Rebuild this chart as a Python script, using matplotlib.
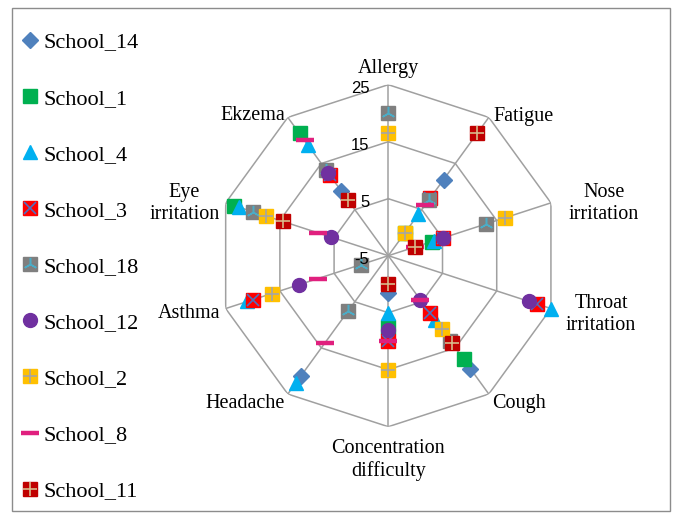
import numpy as np
import matplotlib
matplotlib.use("Agg")
import matplotlib.pyplot as plt
from matplotlib.patches import Rectangle

# ---- data ----
categories = ["Allergy", "Fatigue", "Nose\nirritation", "Throat\nirritation", "Cough",
              "Concentration\ndifficulty", "Headache", "Asthma", "Eye\nirritation", "Ekzema"]
r_ticks = [-5, 5, 15, 25]
nan = np.nan

school_14 = [nan, 11.5, nan, nan, 19.5, 1.5, 21, nan, nan, 9]
school_1 = [nan, 0, 3, nan, 17.5, 7.5, nan, nan, 23.5, 21.5]
school_4 = [nan, 4, 3.5, 25, 9, 5, 22.5, 21, 22.5, 19]
school_3 = [nan, 7.5, 5, 22.5, 7.5, 10, nan, 20, nan, 12.5]
school_18 = [20, 7, 13, nan, 13.5, nan, 7, 0, 20, 13.5]
school_12 = [nan, 0, 5, 21, 4.5, 8, nan, 11.5, 5.5, 13]
school_2 = [16.5, 0, 16.5, nan, 11, 15, nan, 16.5, 17.5, nan]
school_8 = [nan, 6, 0, nan, 4.5, 10, 14, 8, 8, 20]
school_11 = [nan, 21.5, 0, nan, 14, 0, nan, nan, 14.5, 7]

W, H = 677, 513
fig = plt.figure(figsize=(W / 100, H / 100), dpi=100)

# polar axes, centre at (388, 256) px, radius 171 px
cx, cy, rad = 388.3, 255.7, 171
ax = fig.add_axes([(cx - rad) / W, 1 - (cy + rad) / H, 2 * rad / W, 2 * rad / H],
                  projection="polar")
ax.set_theta_zero_location("N")
ax.set_theta_direction(-1)
ax.set_ylim(-5, 25)
ax.grid(False)
ax.spines["polar"].set_visible(False)
ax.set_xticks([])
ax.set_yticks([])

theta = np.arange(len(categories)) * 2 * np.pi / len(categories)
grid_col = "#A0A0A0"

# decagon grid + spokes
for r in r_ticks[1:]:
    ax.plot(np.append(theta, theta[0]), [r] * (len(theta) + 1), color=grid_col, lw=1.1, zorder=1)
for t in theta:
    ax.plot([t, t], [-5, 25], color=grid_col, lw=1.1, zorder=1)

# category labels
lab_font = dict(fontfamily="Liberation Serif", fontsize=14.5, linespacing=1.2,
                multialignment="center", annotation_clip=False)
offsets = [((0, 7), "center", "bottom"), ((5, 1), "left", "center"),
           ((18, -1), "left", "center"), ((15, -6), "left", "center"),
           ((3, -9), "left", "center"), ((0, -12), "center", "top"),
           ((-3, -9), "right", "center"), ((-5, -5), "right", "center"),
           ((-6, -1), "right", "center"), ((-3, 2), "right", "center")]
for t, lab, (off, ha, va) in zip(theta, categories, offsets):
    ax.annotate(lab, xy=(t, 25), xytext=off, textcoords="offset pixels",
                ha=ha, va=va, **lab_font)

# radial tick labels
for r in r_ticks:
    ax.annotate(str(r), xy=(0, r), xytext=(-19, -4), textcoords="offset pixels",
                ha="right", va="center", fontfamily="Liberation Sans", fontsize=12,
                annotation_clip=False)

# ---- series ----
ms = 9.5
handles = []

h = ax.plot(theta, school_14, ls="none", marker="D", ms=8, color="#4F81BD", clip_on=False)
handles.append(h[0])
h = ax.plot(theta, school_1, ls="none", marker="s", ms=ms, color="#00B050", clip_on=False)
handles.append(h[0])
h = ax.plot(theta, school_4, ls="none", marker="^", ms=10.5, color="#00B0F0", clip_on=False)
handles.append(h[0])

h1 = ax.plot(theta, school_3, ls="none", marker="s", ms=ms, color="#FF0000", clip_on=False)
h2 = ax.plot(theta, school_3, ls="none", marker="x", ms=ms - 1, mew=1.2, color="#4F6FC0",
             clip_on=False)
handles.append((h1[0], h2[0]))

h1 = ax.plot(theta, school_18, ls="none", marker="s", ms=ms, color="#7F7F7F", clip_on=False)
h2 = ax.plot(theta, school_18, ls="none", marker=(3, 2, 0), ms=ms, mew=1.1, color="#4BACC6",
             clip_on=False)
handles.append((h1[0], h2[0]))

h = ax.plot(theta, school_12, ls="none", marker="o", ms=10, color="#7030A0", clip_on=False)
handles.append(h[0])

h1 = ax.plot(theta, school_2, ls="none", marker="s", ms=ms, color="#FFC000", clip_on=False)
h2 = ax.plot(theta, school_2, ls="none", marker="+", ms=ms, mew=1.2, color="#A5A5A5",
             clip_on=False)
handles.append((h1[0], h2[0]))

h = ax.plot(theta, school_8, ls="none", marker="_", ms=13, mew=3.2, color="#E0207E", clip_on=False)
handles.append(h[0])

h1 = ax.plot(theta, school_11, ls="none", marker="s", ms=ms, color="#C00000", clip_on=False)
h2 = ax.plot(theta, school_11, ls="none", marker="+", ms=ms, mew=1.2, color="#D8B88A",
             clip_on=False)
handles.append((h1[0], h2[0]))

names = ["School_14", "School_1", "School_4", "School_3", "School_18",
         "School_12", "School_2", "School_8", "School_11"]
fig.legend(handles, names, loc="upper left", bbox_to_anchor=(21 / W, 1 - 32 / H),
           frameon=False, prop={"family": "Liberation Serif", "size": 16},
           labelspacing=1.6, handlelength=0.8, handletextpad=0.2, borderaxespad=0,
           borderpad=0)

# chart border
fig.add_artist(Rectangle((11.5 / W, 2 / H), 658 / W, (H - 9.5) / H, transform=fig.transFigure,
                         fill=False, edgecolor="#8C8C8C", lw=1))

fig.savefig("out.png", dpi=100)
